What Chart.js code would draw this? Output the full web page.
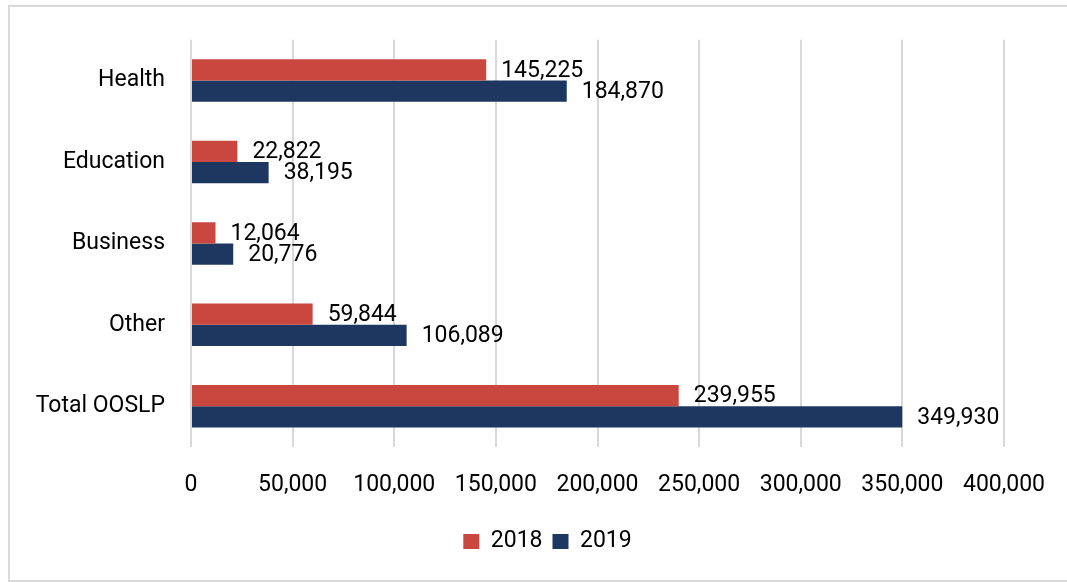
<!DOCTYPE html>
<html>
<head>
<meta charset="utf-8">
<style>
  html, body { margin: 0; padding: 0; background: #ffffff; }
  #wrap { width: 1067px; height: 582px; position: relative; }
</style>
<script src="https://cdn.jsdelivr.net/npm/chart.js@4/dist/chart.umd.min.js"></script>
</head>
<body>
<div id="wrap"><canvas id="c" width="1067" height="582"></canvas></div>
<script>
// Categories and series values
const categories = ['Health', 'Education', 'Business', 'Other', 'Total OOSLP'];
const values2018 = [145225, 22822, 12064, 59844, 239955];
const values2019 = [184870, 38195, 20776, 106089, 349930];
const seriesNames = ['2018', '2019'];
const xTicks = [0, 50000, 100000, 150000, 200000, 250000, 300000, 350000, 400000];

const RED = '#C9473F';
const NAVY = '#1E3761';
const FONT = 'Roboto, "DejaVu Sans", sans-serif';
const fmt = v => v.toLocaleString('en-US');

const PLOT_BOTTOM = 447;
const PAD_BOTTOM = 19;

// Light frame around the chart
const framePlugin = {
  id: 'frame',
  beforeDraw(chart) {
    const ctx = chart.ctx;
    ctx.save();
    ctx.strokeStyle = '#d9d9d9';
    ctx.lineWidth = 2;
    ctx.strokeRect(9, 6, 1100, 575);
    ctx.restore();
  }
};

// Value labels to the right of each bar
const valueLabels = {
  id: 'valueLabels',
  afterDatasetsDraw(chart) {
    const ctx = chart.ctx;
    ctx.save();
    ctx.font = '23px ' + FONT;
    ctx.fillStyle = '#000000';
    ctx.textAlign = 'left';
    ctx.textBaseline = 'middle';
    chart.data.datasets.forEach((ds, di) => {
      const meta = chart.getDatasetMeta(di);
      meta.data.forEach((bar, i) => {
        ctx.fillText(fmt(ds.data[i]), bar.x + 15, bar.y + 1);
      });
    });
    ctx.restore();
  }
};

new Chart(document.getElementById('c'), {
  type: 'bar',
  data: {
    labels: categories,
    datasets: [
      { label: seriesNames[0], data: values2018, backgroundColor: RED },
      { label: seriesNames[1], data: values2019, backgroundColor: NAVY }
    ]
  },
  options: {
    indexAxis: 'y',
    responsive: false,
    animation: false,
    devicePixelRatio: 1,
    layout: { padding: { top: 35, left: 28, right: 0, bottom: PAD_BOTTOM } },
    datasets: { bar: { categoryPercentage: 0.522, barPercentage: 1.0 } },
    plugins: {
      legend: {
        position: 'bottom',
        labels: {
          font: { family: FONT, size: 23 },
          color: '#000000',
          boxWidth: 16,
          boxHeight: 15,
          padding: 10
        }
      },
      tooltip: { enabled: false }
    },
    scales: {
      x: {
        min: 0,
        max: 400000,
        afterBuildTicks(scale) { scale.ticks = xTicks.map(v => ({ value: v })); },
        afterFit(scale) {
          scale.paddingRight = 63;
          scale.paddingLeft = 0;
          scale.height = 582 - PLOT_BOTTOM - PAD_BOTTOM - scale.chart.legend.height;
        },
        grid: { color: '#d9d9d9', lineWidth: 2, drawTicks: false },
        border: { display: false },
        ticks: {
          padding: 24,
          color: '#000000',
          font: { family: FONT, size: 23 },
          callback: v => fmt(v),
          maxRotation: 0,
          autoSkip: false
        }
      },
      y: {
        afterFit(scale) { scale.width = 163; },
        grid: { display: false, drawTicks: false },
        border: { display: false },
        ticks: {
          padding: 26,
          color: '#000000',
          font: { family: FONT, size: 23 }
        }
      }
    }
  },
  plugins: [framePlugin, valueLabels]
});
</script>
</body>
</html>
